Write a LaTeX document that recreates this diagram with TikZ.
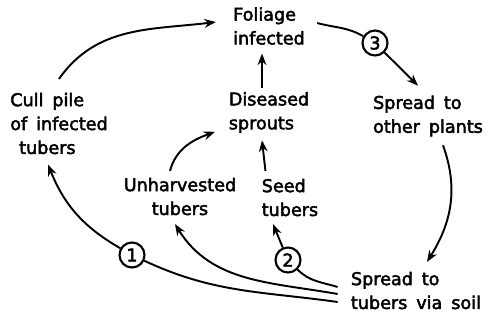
\documentclass[tikz,border=0pt]{standalone}
\usepackage{fontspec}
\newfontfamily\lettering{DejaVu Sans}[FakeBold=2.5, WordSpace=1.6]
\usetikzlibrary{arrows.meta, positioning, calc}

\begin{document}
\begin{tikzpicture}[
    >={Stealth[length=6.5pt, width=5pt]},
    txt/.style={align=left, inner sep=2pt, font=\lettering\fontsize{10}{13.6}\selectfont},
    num/.style={circle, draw, line width=1.2pt, minimum size=0.5cm, inner sep=0pt, font=\lettering\fontsize{10}{12}\selectfont},
    arrow/.style={->, line width=1.1pt},
    link/.style={line width=1.1pt}
]
\useasboundingbox (0,0) rectangle (9.8,6.4);

% === Etapas del ciclo ===
\node[txt] (foliage) at (5.38, 5.88) {Foliage\\infected};
\node[txt] (diseased) at (5.38, 4.15) {Diseased\\sprouts};
\node[txt] (cull) at (1.18, 3.93) {Cull pile\\of infected\\\ tubers};
\node[txt] (other) at (8.56, 4.08) {Spread to\\other plants};
\node[txt, align=center] (unharv) at (3.6, 2.47) {Unharvested\\tubers};
\node[txt] (seed) at (5.8, 2.45) {Seed\\tubers};
\node[txt] (soil) at (8.32, 0.59) {Spread to\\tubers via soil};

% === Numeros ===
\node[num] (c3) at (7.5, 5.54) {3};
\node[num] (c1) at (2.64, 1.30) {1};
\node[num] (c2) at (5.76, 1.20) {2};

% === Flechas ===
\draw[arrow] ([yshift=0.2cm]cull.north) to[out=55, in=187] ([xshift=-0.27cm, yshift=0.08cm]foliage.west);
\draw[link] ([xshift=0.17cm, yshift=0.06cm]foliage.east) to[out=-15, in=150] (c3);
\draw[arrow] (c3) -- ([xshift=-0.2cm, yshift=0.12cm]other.north);
\draw[arrow] ([xshift=-0.14cm]diseased.north) -- ([xshift=-0.14cm, yshift=-0.1cm]foliage.south);
\draw[arrow] ([xshift=0.15cm, yshift=0.08cm]seed.north west) -- ([xshift=-0.14cm, yshift=-0.07cm]diseased.south);
\draw[arrow] ([xshift=-0.2cm, yshift=0.06cm]unharv.north) to[out=75, in=200] ([xshift=-0.2cm, yshift=0.1cm]diseased.south west);
\draw[arrow] ([xshift=0.3cm, yshift=-0.1cm]other.south) to[out=-70, in=58] ([xshift=0.22cm, yshift=0.12cm]soil.north);

% === Desde el suelo ===
\draw[link] ([xshift=-0.19cm, yshift=-0.23cm]soil.west) to[out=172, in=-25] (c1);
\draw[arrow] (c1) to[out=150, in=-68] ([xshift=-0.22cm, yshift=-0.13cm]cull.south);
\draw[arrow] ([xshift=-0.19cm, yshift=-0.07cm]soil.west) to[out=170, in=-58] ([xshift=-0.1cm, yshift=-0.1cm]unharv.south);
\draw[link] ([xshift=-0.19cm, yshift=0.07cm]soil.west) to[out=163, in=-45] (c2);
\draw[arrow] (c2) -- ([xshift=-0.34cm, yshift=-0.08cm]seed.south);

\end{tikzpicture}
\end{document}
